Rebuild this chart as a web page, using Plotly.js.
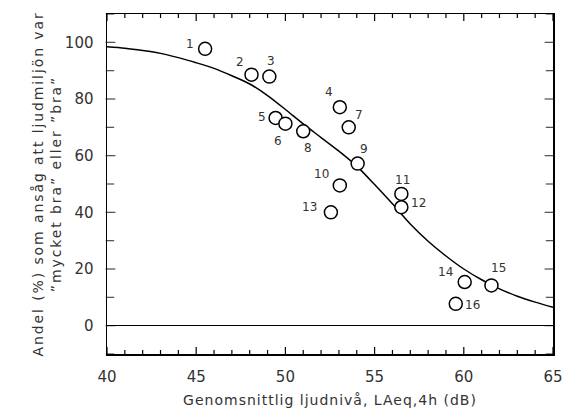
<!DOCTYPE html>
<html>
<head>
<meta charset="utf-8">
<script src="https://cdn.plot.ly/plotly-3.0.1.min.js"></script>
<style>
html,body{margin:0;padding:0;background:#fff;}
#chart{width:564px;height:409px;}
.xtitle{letter-spacing:1px;}
.ytitle{letter-spacing:1.9px;}
</style>
</head>
<body>
<div id="chart"></div>
<script>
// Survey points
var pointIds = ['1','2','3','4','5','6','7','8','9','10','11','12','13','14','15','16'];
var pointX = [45.5, 48.1, 49.1, 53.05, 49.45, 50.0, 53.55, 51.0, 54.05, 53.05, 56.5, 56.5, 52.55, 60.05, 61.55, 59.55];
var pointY = [97.7, 88.6, 87.9, 77.1, 73.3, 71.3, 70.0, 68.6, 57.2, 49.5, 46.5, 41.8, 40.0, 15.4, 14.2, 7.7];
// Label offsets (pixels) of each point number
var labelDX = [-15, -12, 2, -11, -14, -7, 10, 5, 6, -18, 1, 17, -21, -19, 7, 17];
var labelDY = [-5, -13, -16, -15, -1, 17, -12, 17, -15, -11, -14, -4, -5, -10, -17, 1];
// Fitted curve
var curveX = [40, 41, 42, 43, 44, 45, 46, 47, 48, 49, 50, 51, 52, 53, 54, 55, 56, 57, 58, 59, 60, 61, 62, 63, 64, 65];
var curveY = [98.4, 97.9, 97.1, 96.1, 94.6, 92.8, 90.8, 88.2, 85.3, 81.2, 76.3, 71.2, 66.4, 61.6, 56.3, 49.8, 43.0, 35.9, 29.8, 24.6, 20.0, 16.2, 13.0, 10.4, 8.3, 6.5];
// Axis tick values
var xMajorTicks = [40, 45, 50, 55, 60, 65];
var xMinorTicks = [41, 42, 43, 44, 46, 47, 48, 49, 51, 52, 53, 54, 56, 57, 58, 59, 61, 62, 63, 64];
var yMajorTicks = [0, 20, 40, 60, 80, 100];
var yMinorTicks = [-10, 10, 30, 50, 70, 90, 110];

var textColor = '#333';
var W = 564, H = 409, M = {l: 107, r: 11, t: 14, b: 55};
var xRange = [40, 65], yRange = [-10, 110];
var plotW = W - M.l - M.r, plotH = H - M.t - M.b;
var pxToX = (xRange[1] - xRange[0]) / plotW;

// Inside y ticks (left and right) as horizontal line markers, centred half a tick inside the frame
var yTickX = [], yTickY = [], yTickS = [];
function yTick(v, len){
  yTickX.push(xRange[0] + len / 2 * pxToX, xRange[1] - len / 2 * pxToX);
  yTickY.push(v, v);
  yTickS.push(len, len);
}
yMajorTicks.forEach(function(v){ yTick(v, 7); });
yMinorTicks.forEach(function(v){ yTick(v, 6); });

var traces = [
  {x: yTickX, y: yTickY, type: 'scatter', mode: 'markers', hoverinfo: 'skip', cliponaxis: false,
   marker: {symbol: 'line-ew', size: yTickS, color: '#000', line: {color: '#000', width: 1.2}}},
  {x: curveX, y: curveY, type: 'scatter', mode: 'lines', line: {color: '#000', width: 1.5, shape: 'spline', smoothing: 0.8}, hoverinfo: 'skip'},
  {x: pointX, y: pointY, type: 'scatter', mode: 'markers', marker: {size: 13, color: '#fff', line: {color: '#000', width: 1.5}}}
];
var annotations = pointIds.map(function(t, i){
  return {x: pointX[i], y: pointY[i], xref: 'x', yref: 'y', text: t, showarrow: false,
          xshift: labelDX[i], yshift: -labelDY[i], font: {family: 'DejaVu Sans', size: 12, color: textColor}};
});

// Inside x ticks (bottom and top) as shapes at axis values
var shapes = [];
function xTick(v, len){
  var f = len / plotH;
  var base = {type: 'line', xref: 'x', yref: 'paper', x0: v, x1: v, line: {color: '#000', width: 1.2}};
  shapes.push(Object.assign({}, base, {y0: 0, y1: f}));
  shapes.push(Object.assign({}, base, {y0: 1, y1: 1 - f}));
}
xMajorTicks.forEach(function(v){ xTick(v, 7); });
xMinorTicks.forEach(function(v){ xTick(v, 4); });

var layout = {
  width: W, height: H,
  margin: M,
  paper_bgcolor: '#fff', plot_bgcolor: '#fff',
  showlegend: false,
  font: {family: 'DejaVu Sans', color: textColor, size: 14},
  xaxis: {
    range: xRange, tickmode: 'array', tickvals: xMajorTicks, ticks: '', ticklabelstandoff: 8,
    showline: true, linecolor: '#000', linewidth: 1.5, mirror: true, showgrid: false, zeroline: false,
    tickfont: {size: 15, color: textColor},
    title: {text: 'Genomsnittlig ljudnivå, LAeq,4h (dB)', font: {size: 14, color: textColor}, standoff: 10}
  },
  yaxis: {
    range: yRange, tickmode: 'array', tickvals: yMajorTicks, ticks: '', ticklabelstandoff: 9,
    showline: true, linecolor: '#000', linewidth: 1.5, mirror: true, showgrid: false,
    zeroline: true, zerolinecolor: '#000', zerolinewidth: 1.2,
    tickfont: {size: 15, color: textColor},
    title: {text: 'Andel (%) som ansåg att ljudmiljön var<br>”mycket bra” eller ”bra”', font: {size: 14, color: textColor}, standoff: 0}
  },
  shapes: shapes,
  annotations: annotations
};
Plotly.newPlot('chart', traces, layout, {displayModeBar: false, staticPlot: true});
</script>
</body>
</html>
